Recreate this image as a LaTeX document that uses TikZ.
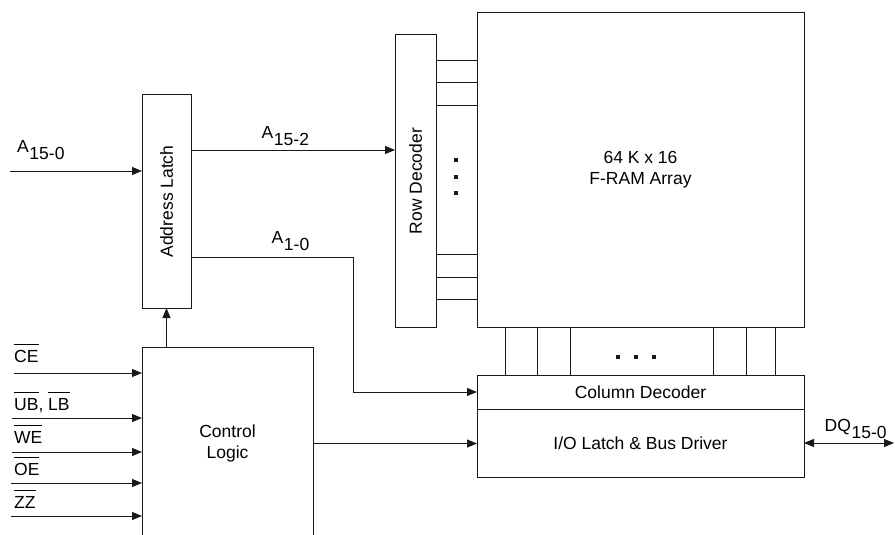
\documentclass[tikz,border=0pt]{standalone}
\usepackage{fontspec}
\setmainfont{Liberation Sans}
\usetikzlibrary{arrows.meta, positioning, calc}
\definecolor{mydark}{RGB}{25,25,25}
\newcommand{\sigsub}[2]{#1\kern0.6pt\raisebox{-7pt}{#2}}
\newcommand{\actlow}[1]{\leavevmode\vbox{\hrule height 0.9pt\kern 5pt\hbox{#1}}}
\tikzset{
  blk/.style={rectangle, draw=mydark, line width=1pt, inner sep=0pt,
    outer sep=0pt, align=center, font=\fontsize{17.5}{21}\selectfont},
  lbl/.style={inner sep=0pt, align=center, font=\fontsize{17.5}{21}\selectfont},
  sigarrow/.style={-{Triangle[length=10pt,width=8pt]}, line width=1pt, color=mydark},
  busarrow/.style={{Triangle[length=10pt,width=8pt]}-{Triangle[length=10pt,width=8pt]},
    line width=1pt, color=mydark},
  wire/.style={line width=1pt, color=mydark}
}

\begin{document}
\begin{tikzpicture}[x=1pt, y=-1pt]
  \useasboundingbox (0,0) rectangle (895,535);

  % blocks
  \node[blk, minimum width=49pt, minimum height=213pt] (latch) at (166.5,201.5) {};
  \node[lbl, rotate=90] (latchtxt) at (latch) {Address Latch};
  \node[blk, minimum width=41pt, minimum height=292pt] (rowdec) at (415.5,181) {};
  \node[lbl, rotate=90] (rowtxt) at (rowdec) {Row Decoder};
  \node[blk, minimum width=327pt, minimum height=314pt] (array) at (640.5,170) {64 K x 16\\F-RAM Array};
  \node[blk, minimum width=327pt, minimum height=34pt] (coldec) at (640.5,392) {Column Decoder};
  \node[blk, minimum width=327pt, minimum height=68pt, anchor=north] (iolatch) at (coldec.south) {I/O Latch \& Bus Driver};
  \node[blk, minimum width=171pt, minimum height=193pt] (ctrl) at (227.5,443.5) {Control\\Logic};

  % word lines and bit lines
  \foreach \y in {61,83,106,254,277,299}
    \draw[wire] (rowdec.east |- 0,\y) -- (array.west |- 0,\y);
  \foreach \y in {160,177,193}
    \fill[mydark] (454,\y-2) rectangle (458,\y+2);
  \foreach \x in {505,537,570,713,746,775}
    \draw[wire] (array.south -| \x,0) -- (coldec.north -| \x,0);
  \foreach \x in {618,636,654}
    \fill[mydark] (\x-2,355) rectangle (\x+2,359);

  % address path
  \coordinate (a15in) at (10,171);
  \draw[sigarrow] (a15in) -- (a15in -| latch.west);
  \node[lbl, anchor=base west] (a15lbl) at (17,152) {\sigsub{A}{15-0}};
  \draw[sigarrow] (latch.east |- 0,150) -- (rowdec.west |- 0,150);
  \node[lbl, anchor=base west] (a152lbl) at (261.5,139) {\sigsub{A}{15-2}};
  \coordinate (a10bend) at (353,257);
  \draw[sigarrow] (latch.east |- a10bend) -- (a10bend) |- (coldec.west);
  \node[lbl, anchor=base west] (a10lbl) at (271.5,243.5) {\sigsub{A}{1-0}};

  % control inputs
  \foreach \xa/\ya/\yb/\nm/\txt in {14/373/362/ce/{\actlow{CE}},
      12/418/410/ub/{\actlow{UB}, \actlow{LB}}, 12/452/443/we/{\actlow{WE}},
      11/483/475.5/oe/{\actlow{OE}}, 11/516/508/zz/{\actlow{ZZ}}}{
    \coordinate (src\nm) at (\xa,\ya);
    \draw[sigarrow] (src\nm) -- (src\nm -| ctrl.west);
    \node[lbl, anchor=base west] (lbl\nm) at (14,\yb) {\txt};
  }
  \draw[sigarrow] (ctrl.north -| latch.south) -- (latch.south);
  \draw[sigarrow] (ctrl.east) -- (ctrl.east -| iolatch.west);

  % data bus
  \coordinate (dqout) at (894,443);
  \draw[busarrow] (iolatch.east) -- (dqout);
  \node[lbl, anchor=base west] (dqlbl) at (824.5,431) {\sigsub{DQ}{15-0}};
\end{tikzpicture}
\end{document}
